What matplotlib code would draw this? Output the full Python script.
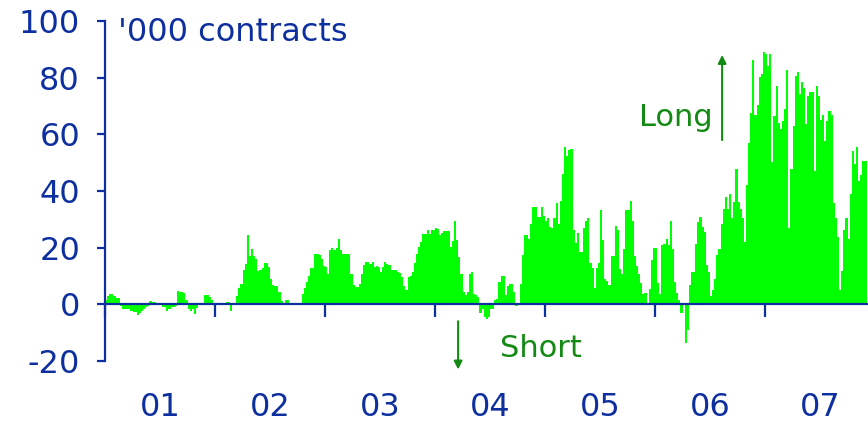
import matplotlib
matplotlib.use("Agg")
import matplotlib.pyplot as plt
import numpy as np

plt.rcParams["axes.unicode_minus"] = False

# weekly net positions, '000 contracts
pos_2001 = [1.5, 3.0, 3.6, 3.6, 3.0, 2.1, 2.1, -0.5, -1.6, -1.6, -1.6, -1.6, -2.4,
            -2.8, -2.8, -3.6, -3.2, -2.2, -1.6, -1.0, -0.5, 1.3, 1.0, 0.7, 0.4, 0.2,
            0.1, -0.8, -1.0, -2.5, -1.8, -1.0, -0.8, -0.5, 4.8, 4.5, 4.2, 4.0, 1.5,
            -1.5, -2.2, -1.5, -3.4, -1.4, 0.6, 0.6, 0.4, 3.4, 3.2, 2.5, 1.5, 0.2]
pos_2002 = [0, 0, 0, 0, 0.3, 0.7, 0.7, -2.5, 0, 0, 3.0, 5.8, 7.2, 12.2, 14.4, 24.4,
            17.0, 19.4, 17.0, 15.9, 11.7, 12.2, 12.8, 14.5, 14.5, 13.2, 9.1, 6.7, 6.5,
            6.5, 4.4, 1.1, 0.2, 1.4, 1.4, 0.6, 0, 0.6, 0.2, 0.4, 0, 3.5, 5.8, 8.0,
            10.0, 12.8, 12.8, 17.9, 17.9, 17.3, 16.1, 13.5]
pos_2003 = [13.2, 10.8, 19.3, 20.0, 19.3, 20.0, 22.9, 19.3, 17.9, 17.9, 17.9, 17.9,
            10.6, 6.7, 6.1, 6.1, 7.3, 10.8, 13.8, 15.0, 15.0, 14.4, 15.0, 13.2, 13.4,
            13.2, 11.4, 13.2, 15.0, 14.4, 13.8, 12.0, 12.2, 12.0, 11.4, 11.1, 9.7, 6.4,
            4.9, 9.7, 9.9, 11.4, 14.6, 17.9, 20.3, 22.0, 24.7, 24.7, 26.1, 24.7, 26.1,
            26.1]
pos_2004 = [27.1, 26.7, 24.4, 25.0, 25.9, 25.9, 25.9, 20.3, 22.4, 29.4, 22.6, 16.7,
            10.8, 4.4, 3.2, 4.4, 10.8, 11.4, 3.8, 3.2, 2.6, -3.1, -1.5, -4.5, -5.1,
            -4.5, -1.5, -1.5, 1.4, 2.0, 7.9, 9.9, 9.9, 3.2, 6.4, 7.3, 7.3, 4.4, -0.7,
            0.5, 7.3, 17.3, 24.4, 24.4, 22.9, 28.5, 34.4, 34.4, 30.9, 30.9, 34.4, 31.1]
pos_2005 = [29.4, 30.6, 27.3, 26.9, 30.6, 35.6, 28.3, 36.5, 45.9, 55.6, 52.4, 54.4,
            54.8, 26.1, 21.8, 25.3, 18.3, 18.3, 26.9, 29.4, 30.4, 14.7, 13.0, 5.9, 13.0,
            14.7, 33.2, 22.6, 8.8, 8.2, 6.8, 17.1, 17.1, 27.7, 26.1, 12.4, 10.8, 19.4,
            33.2, 33.2, 36.3, 29.4, 17.1, 13.5, 10.6, 7.7, 3.5, 4.1, 0.2, 5.3, 15.5,
            19.8]
pos_2006 = [19.9, 7.7, 3.8, 20.8, 21.4, 23.2, 20.8, 29.3, 19.7, 7.9, 4.1, 1.4, -3.1,
            0.5, -13.7, -9.2, 6.9, 11.4, 11.4, 21.4, 29.1, 30.9, 27.3, 25.6, 13.8,
            11.4, 2.9, 4.9, 9.1, 17.3, 19.7, 28.5, 33.8, 37.9, 33.8, 39.1, 30.3, 36.2,
            47.9, 36.2, 33.8, 30.3, 22.0, 42.0, 56.8, 67.4, 86.2, 66.8, 70.3, 80.3,
            81.2, 88.9]
pos_2007 = [88.3, 84.2, 88.3, 50.1, 66.3, 77.1, 64.0, 61.8, 64.8, 69.1, 82.8, 27.1,
            47.7, 62.8, 80.7, 82.1, 74.2, 78.6, 76.2, 63.6, 73.4, 74.8, 74.8, 47.1,
            76.9, 73.6, 65.1, 66.8, 57.7, 64.8, 68.3, 66.8, 35.9, 30.6, 23.6, 5.1, 11.8,
            26.3, 30.3, 23.0, 39.1, 54.2, 49.5, 55.7, 43.6, 45.6, 50.6, 50.6]

years = [2001, 2002, 2003, 2004, 2005, 2006, 2007]
year_labels = ["01", "02", "03", "04", "05", "06", "07"]
series = [pos_2001, pos_2002, pos_2003, pos_2004, pos_2005, pos_2006, pos_2007]

BLUE = "#0d2f9f"
GREEN_TEXT = "#138a13"
BAR = "#00ff00"

x = np.concatenate([yr + np.arange(len(v)) / 52.0 for yr, v in zip(years, series)])
y = np.concatenate([np.asarray(v, dtype=float) for v in series])

fig = plt.figure(figsize=(8.68, 4.25), dpi=100)
ax = fig.add_axes([105 / 868, 1 - 361 / 425, 763 / 868, 340 / 425])

ax.bar(x, y, width=1 / 52.0, align="edge", color=BAR, linewidth=0)

ax.set_xlim(2001, 2007.936)
ax.set_ylim(-20, 100)

for side in ("top", "right"):
    ax.spines[side].set_visible(False)
ax.spines["bottom"].set_position(("data", 0))
for side in ("left", "bottom"):
    ax.spines[side].set_color(BLUE)
    ax.spines[side].set_linewidth(1.6)
    ax.spines[side].set_zorder(5)

ax.set_yticks([-20, 0, 20, 40, 60, 80, 100])
ax.tick_params(axis="y", colors=BLUE, labelsize=23, length=6, width=1.6,
               direction="out", pad=12)
ax.set_xticks(years)
ax.set_xticklabels([])
ax.set_xticks([yr + 0.5 for yr in years], minor=True)
ax.set_xticklabels(year_labels, minor=True)
ax.tick_params(axis="x", which="major", colors=BLUE, length=9, width=1.6, direction="out")
ax.tick_params(axis="x", which="minor", colors=BLUE, labelsize=23, length=0, pad=63)

ax.text(2001.12, 95.8, "'000 contracts", color=BLUE, fontsize=23, ha="left", va="center")

ax.text(2006.52, 66, "Long", color=GREEN_TEXT, fontsize=22, ha="right", va="center")
ax.annotate("", xy=(2006.61, 89), xytext=(2006.61, 57),
            arrowprops=dict(arrowstyle="-|>", color=GREEN_TEXT, lw=1.5, mutation_scale=12))

ax.text(2004.59, -15.5, "Short", color=GREEN_TEXT, fontsize=22, ha="left", va="center")
ax.annotate("", xy=(2004.21, -24), xytext=(2004.21, -5),
            arrowprops=dict(arrowstyle="-|>", color=GREEN_TEXT, lw=1.5, mutation_scale=12),
            annotation_clip=False)

fig.savefig("out.png", dpi=100)
